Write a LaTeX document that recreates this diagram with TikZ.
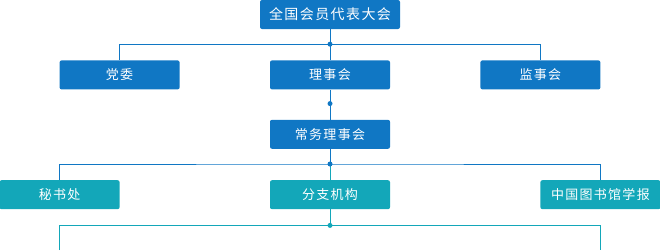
\documentclass[tikz,border=0pt]{standalone}
\usepackage{fontspec}
\usetikzlibrary{positioning,calc}
\newfontfamily\cjk[LetterSpace=10]{Noto Sans CJK SC}
\definecolor{orgblue}{HTML}{1077C4}
\definecolor{orgteal}{HTML}{13A7B9}

\begin{document}
\begin{tikzpicture}[
  font=\cjk\fontsize{13pt}{15pt}\selectfont,
  node distance=31pt,
  blu/.style = {fill=orgblue, text=white, rounded corners=2pt,
                minimum width=120pt, minimum height=29pt, inner sep=0pt},
  tea/.style = {fill=orgteal, text=white, rounded corners=2pt,
                minimum width=120pt, minimum height=29pt, inner sep=0pt},
  ln/.style  = {draw=orgblue, line width=1pt},
  lnt/.style = {draw=orgteal, line width=1pt},
  dot/.style = {fill=orgblue},
  dott/.style = {fill=orgteal},
]
\useasboundingbox (0,0) rectangle (660pt,-250pt);

% --- the main column ---------------------------------------------------------------------------
\node[blu, minimum width=140pt, font=\cjk\fontsize{14pt}{16pt}\selectfont] (dahui) at (330pt,-14.5pt) {全国会员代表大会};
\node[blu, below=31pt of dahui] (lishi)   {理事会};
\node[blu, left=90pt of lishi]  (dangwei) {党委};
\node[blu, right=90pt of lishi] (jianshi) {监事会};
\node[blu, below=30pt of lishi] (changwu) {常务理事会};
\node[tea, below=31pt of changwu] (fenzhi) {分支机构};
\node[tea, left=150pt of fenzhi]  (mishu)  {秘书处};
\node[tea, right=150pt of fenzhi] (xuebao) {中国图书馆学报};

% --- the junctions -----------------------------------------------------------------------------
\coordinate (j1) at ($(dahui.south)+(0,-15pt)$);
\coordinate (j0) at ($(lishi.south)+(0,-14pt)$);
\coordinate (j2) at ($(changwu.south)+(0,-15pt)$);
\coordinate (j3) at ($(fenzhi.south)+(0,-16pt)$);
\coordinate (e1) at (mishu.south |- 0,-250pt);
\coordinate (e2) at (xuebao.south |- 0,-250pt);

% --- the connectors ----------------------------------------------------------------------------
\draw[ln] (dahui.south) -- (lishi.north);
\draw[ln] (dangwei.north) |- (j1) -| (jianshi.north);
\draw[ln] (lishi.south) -- (changwu.north);
\draw[ln] (changwu.south) -- (j2);
\draw[ln] (mishu.north) |- (j2) -| (xuebao.north);
\draw[lnt] (j2) -- (fenzhi.north);
\draw[lnt] (fenzhi.south) -- (j3);
\draw[lnt] (e1) |- (j3) -| (e2);

\fill[dot]  (j1) circle (2.5pt);
\fill[dot]  (j0) circle (2.5pt);
\fill[dot]  (j2) circle (2.5pt);
\fill[dott] (j3) circle (2.5pt);

\end{tikzpicture}
\end{document}
